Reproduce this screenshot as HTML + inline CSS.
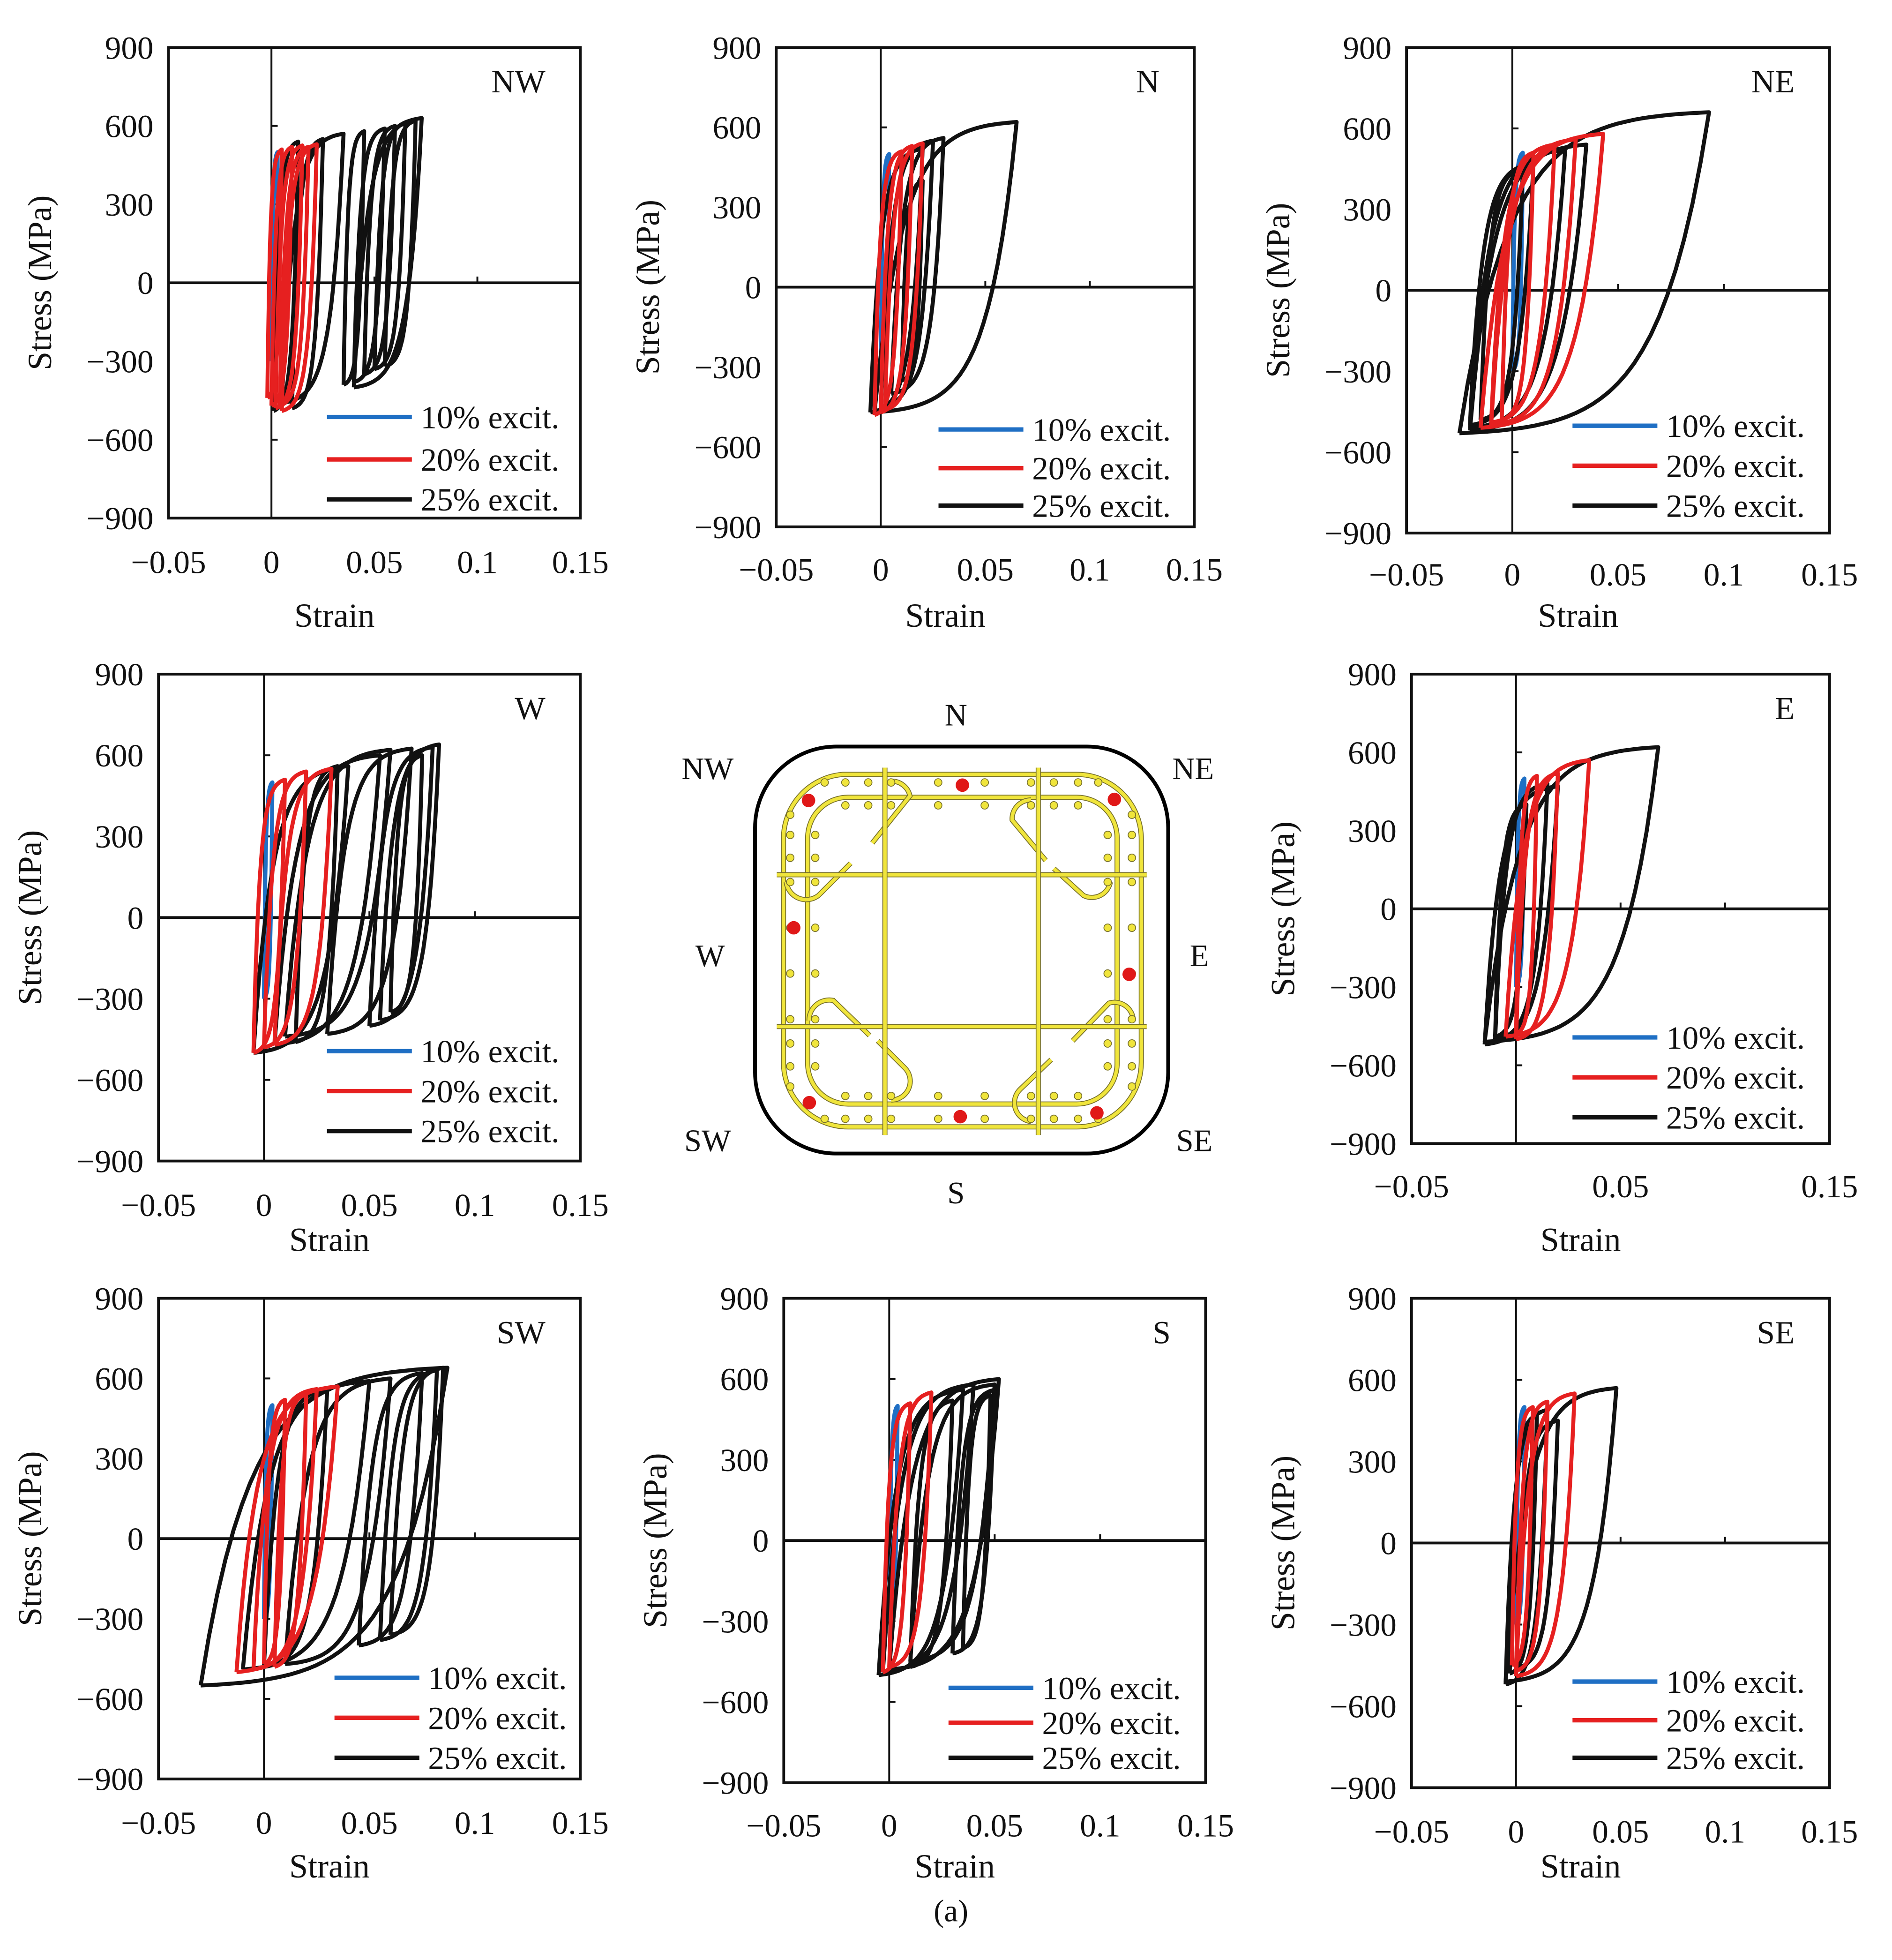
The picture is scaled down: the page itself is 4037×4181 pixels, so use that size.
<!DOCTYPE html>
<html><head><meta charset="utf-8"><style>
html,body{margin:0;padding:0;background:#fff;}
svg{display:block;}
text{font-family:"Liberation Serif",serif;fill:#111;}
</style></head><body>
<svg id="fig" width="4037" height="4181" viewBox="0 0 1516 1570" xmlns="http://www.w3.org/2000/svg">
<g id="panels"></g>
<g id="diagram">
  <rect x="605" y="598" width="331" height="326" rx="65" fill="#fff" stroke="#000" stroke-width="3"/>
  <g id="cage" transform="translate(593.3,585.8) scale(0.21556)"></g>
  <text x="766" y="581" font-size="25" text-anchor="middle">N</text>
  <text x="567" y="624" font-size="25" text-anchor="middle">NW</text>
  <text x="956" y="624" font-size="25" text-anchor="middle">NE</text>
  <text x="569" y="774" font-size="25" text-anchor="middle">W</text>
  <text x="961" y="774" font-size="25" text-anchor="middle">E</text>
  <text x="567" y="922" font-size="25" text-anchor="middle">SW</text>
  <text x="957" y="922" font-size="25" text-anchor="middle">SE</text>
  <text x="766" y="964" font-size="25" text-anchor="middle">S</text>
</g>
<text x="762" y="1539" font-size="25" text-anchor="middle">(a)</text>
</svg>
<script>
// ---------- data (loops: [strainMin, strainMax, peakStress, minStress]) ----------
const yTicks = [900, 600, 300, 0, -300, -600, -900];
const xTicksFull = [-0.05, 0, 0.05, 0.1, 0.15];
const xTicksE = [-0.05, 0.05, 0.15];
const seriesNames = ["10% excit.", "20% excit.", "25% excit."];

const nwBlue = [[0,0.003,500,-300]];
const nwRed = [[-0.002,0.005,510,-440],[0,0.01,520,-470],[0.002,0.015,525,-480],[0.005,0.022,530,-490],[0.004,0.018,520,-470]];
const nwBlack = [[0.001,0.013,540,-490],[0.005,0.035,570,-460],[0.01,0.025,550,-480],[0.035,0.045,580,-390],[0.04,0.055,590,-380],[0.045,0.06,600,-350],[0.05,0.065,610,-330],[0.055,0.07,620,-320],[0.04,0.073,630,-400]];

const nBlue = [[0,0.004,500,-300]];
const nRed = [[-0.003,0.01,510,-480],[0,0.015,530,-470],[0.002,0.02,540,-460]];
const nBlack = [[-0.005,0.02,520,-470],[0,0.025,550,-450],[0.005,0.03,560,-400],[0.01,0.02,400,-350],[-0.003,0.065,620,-470]];

const neBlue = [[0,0.005,510,-300]];
const neRed = [[-0.015,0.043,580,-510],[-0.01,0.03,560,-500],[-0.01,0.02,540,-490],[-0.005,0.01,510,-480]];
const neBlack = [[-0.025,0.093,660,-530],[-0.02,0.035,540,-520],[-0.02,0.025,520,-510],[-0.02,0.01,470,-500],[-0.015,0.005,450,-480]];

const wBlue = [[0,0.004,500,-300]];
const wRed = [[-0.005,0.01,510,-500],[0,0.02,540,-480],[0.005,0.032,550,-470]];
const wBlack = [[-0.005,0.04,560,-500],[0.005,0.055,600,-470],[0.015,0.035,560,-460],[0.01,0.06,620,-440],[0.03,0.07,625,-430],[0.05,0.08,630,-400],[0.055,0.083,640,-380],[0.06,0.075,600,-350]];

const eBlue = [[0,0.004,500,-300]];
const eRed = [[-0.005,0.035,570,-490],[0,0.02,520,-500],[0,0.01,510,-480]];
const eBlack = [[-0.015,0.068,620,-510],[-0.015,0.02,470,-520],[-0.01,0.015,480,-500],[-0.01,0.005,400,-490]];

const swBlue = [[0,0.004,500,-300]];
const swRed = [[-0.013,0.035,570,-500],[-0.005,0.025,560,-490],[0.005,0.02,540,-480],[0,0.01,520,-470]];
const swBlack = [[-0.03,0.087,640,-550],[-0.01,0.05,590,-490],[0.01,0.06,600,-470],[0,0.03,560,-480],[0.045,0.075,620,-400],[0.055,0.082,630,-380],[0.06,0.085,640,-360]];

const sBlue = [[0,0.004,500,-300]];
const sRed = [[-0.003,0.01,510,-490],[0,0.02,550,-470]];
const sBlack = [[-0.005,0.035,560,-500],[-0.003,0.04,580,-490],[0,0.052,600,-480],[0.01,0.05,580,-450],[0.03,0.05,560,-420],[0.035,0.048,540,-400],[0.01,0.03,520,-470]];

const seBlue = [[0,0.004,500,-300]];
const seRed = [[0,0.028,550,-490],[0,0.015,520,-470],[-0.002,0.008,500,-450]];
const seBlack = [[-0.005,0.048,570,-510],[-0.005,0.015,490,-520],[-0.003,0.01,470,-480],[0,0.02,450,-460]];

// ---------- layout ----------
const panels = [
 {id:"nw",t:"NW",x0:135,x1:465,y0:38,y1:415,xl:450,st:493,lg:[334,368,400],lx:262,xt:xTicksFull,d:[nwBlue,nwRed,nwBlack]},
 {id:"n",t:"N",x0:622,x1:957,y0:38,y1:422,xl:456,st:493,lg:[344,375,405],lx:752,xt:xTicksFull,d:[nBlue,nRed,nBlack]},
 {id:"ne",t:"NE",x0:1127,x1:1466,y0:38,y1:427,xl:460,st:493,lg:[341,373,405],lx:1260,xt:xTicksFull,d:[neBlue,neRed,neBlack]},
 {id:"w",t:"W",x0:127,x1:465,y0:540,y1:930,xl:965,st:993,lg:[842,874,906],lx:262,xt:xTicksFull,d:[wBlue,wRed,wBlack]},
 {id:"e",t:"E",x0:1131,x1:1466,y0:540,y1:916,xl:950,st:993,lg:[831,863,895],lx:1260,xt:xTicksE,d:[eBlue,eRed,eBlack]},
 {id:"sw",t:"SW",x0:127,x1:465,y0:1040,y1:1425,xl:1460,st:1495,lg:[1344,1376,1408],lx:268,xt:xTicksFull,d:[swBlue,swRed,swBlack]},
 {id:"s",t:"S",x0:628,x1:966,y0:1040,y1:1428,xl:1462,st:1495,lg:[1352,1380,1408],lx:760,xt:xTicksFull,d:[sBlue,sRed,sBlack]},
 {id:"se",t:"SE",x0:1131,x1:1466,y0:1040,y1:1432,xl:1467,st:1495,lg:[1347,1378,1408],lx:1260,xt:xTicksFull,d:[seBlue,seRed,seBlack]}
];
const colors = ["#1f6fc4","#e62020","#111111"];
const NS = "http://www.w3.org/2000/svg";
function mk(tag, attrs, parent){ const e=document.createElementNS(NS,tag); for(const k in attrs) e.setAttribute(k,attrs[k]); parent.appendChild(e); return e; }
function fmt(v){ if(v===0) return "0"; let s=String(Math.abs(v)); if(s.startsWith("0.")) s="0"+s.slice(1); return (v<0?"\u2212":"")+s; }

const root = document.getElementById("panels");
panels.forEach(p=>{
  const g = mk("g",{},root);
  
  
  const sx = v => p.x0 + (v + 0.05) / 0.2 * (p.x1 - p.x0);
  const sy = v => p.y0 + (900 - v) / 1800 * (p.y1 - p.y0);
  const box = mk("rect",{x:p.x0,y:p.y0,width:p.x1-p.x0,height:p.y1-p.y0,fill:"none",stroke:"#111","stroke-width":2.2},g);
  
  
  const za = mk("line",{x1:p.x0,x2:p.x1,y1:sy(0),y2:sy(0),stroke:"#111","stroke-width":2.2},g);
  
  
  const zb = mk("line",{x1:sx(0),x2:sx(0),y1:p.y0,y2:p.y1,stroke:"#111","stroke-width":1.5},g);
  
  
  [0.05,0.1].forEach(v=>{ const t=mk("line",{x1:sx(v),x2:sx(v),y1:sy(0),y2:sy(0)-5,stroke:"#111","stroke-width":1.5},g);
    
     });
  [600,300,-300,-600].forEach(v=>{ const t=mk("line",{x1:sx(0),x2:sx(0)+5,y1:sy(v),y2:sy(v),stroke:"#111","stroke-width":1.5},g);
    
     });
  yTicks.forEach(v=>{ const t=mk("text",{x:p.x0-12,y:sy(v)+9,"font-size":26,"text-anchor":"end"},g); t.textContent=fmt(v);
    
     });
  p.xt.forEach(v=>{ const t=mk("text",{x:sx(v),y:p.xl+9,"font-size":26,"text-anchor":"middle"},g); t.textContent=fmt(v);
    
     });
  const xt = mk("text",{x:(p.x0+p.x1)/2 - 32,y:p.st+9,"font-size":27,"text-anchor":"middle"},g); xt.textContent="Strain";
  
  
  const yc = (p.y0+p.y1)/2; const yx = p.x0-94;
  const yt = mk("text",{x:yx,y:yc,"font-size":27,"text-anchor":"middle",transform:`rotate(-90 ${yx} ${yc})`},g); yt.textContent="Stress (MPa)";
  
  
  const pt = mk("text",{x:p.x1-28,y:p.y0+36,"font-size":26,"text-anchor":"end"},g); pt.textContent=p.t;
  
  
  // series: draw blue, black, red
  [0,2,1].forEach(si=>{
    const sg = mk("g",{},g);
    
    
    p.d[si].forEach(L=>{
      const [a,b,top,bot]=L; const K=5, N=30, den=1-Math.exp(-K);
      let d="";
      for(let i=0;i<=N;i++){ const t=i/N; const x=a+(b-a)*t; const y=bot+(top-bot)*(1-Math.exp(-K*t))/den; d+=(i?"L":"M")+sx(x).toFixed(1)+","+sy(y).toFixed(1); }
      for(let i=0;i<=N;i++){ const t=i/N; const x=b-(b-a)*t; const y=top-(top-bot)*(1-Math.exp(-K*t))/den; d+="L"+sx(x).toFixed(1)+","+sy(y).toFixed(1); }
      const path = mk("path",{d:d,fill:"none",stroke:colors[si],"stroke-width":3.2,"stroke-linejoin":"round"},sg);
      
      
    });
  });
  // legend
  seriesNames.forEach((nm,i)=>{
    const ln = mk("line",{x1:p.lx,x2:p.lx+68,y1:p.lg[i],y2:p.lg[i],stroke:colors[i],"stroke-width":3.5},g);
    
    
    const tx = mk("text",{x:p.lx+75,y:p.lg[i]+9,"font-size":26},g); tx.textContent=nm;
    
    
  });
});

// ---------- cross-section cage (coordinates in local diagram space) ----------
const cage = document.getElementById("cage");
function bar(d){ mk("path",{d:d,fill:"none",stroke:"#77702a","stroke-width":19,"stroke-linecap":"butt"},cage); mk("path",{d:d,fill:"none",stroke:"#f0e53c","stroke-width":13,"stroke-linecap":"butt"},cage); }
bar("M380,160 L1250,160 A240,240 0 0 1 1490,400 L1490,1230 A240,240 0 0 1 1250,1470 L400,1470 A240,240 0 0 1 160,1230 L160,400 A240,240 0 0 1 380,160 Z");
bar("M400,245 L1250,245 A150,150 0 0 1 1400,395 L1400,1235 A150,150 0 0 1 1250,1385 L400,1385 A150,150 0 0 1 250,1235 L250,395 A150,150 0 0 1 400,245 Z");
bar("M560,185 A70,70 0 0 1 630,240 L490,415");
bar("M170,560 A75,75 0 0 0 290,610 L410,490");
bar("M1080,255 A70,70 0 0 0 1010,330 L1135,480");
bar("M1165,510 L1275,610 A70,70 0 0 0 1375,560");
bar("M255,1075 A75,75 0 0 1 345,1000 L480,1130");
bar("M510,1150 L610,1250 A70,70 0 0 1 560,1370");
bar("M1460,1070 A70,70 0 0 0 1370,1010 L1235,1150");
bar("M1155,1220 L1040,1330 A70,70 0 0 0 1080,1450");
bar("M135,533 L1510,533"); bar("M135,1097 L1510,1097");
bar("M537,135 L537,1500"); bar("M1107,135 L1107,1500");
const dots = [];
[313,390,475,560,735,908,1080,1165,1255,1330].forEach(x=>{dots.push([x,190]);dots.push([x,1440]);});
[390,475,560,735,908,1080,1165,1255].forEach(x=>{dots.push([x,275]);dots.push([x,1355]);});
[310,385,470,560,730,900,1070,1160,1245,1320].forEach(y=>{dots.push([185,y]);dots.push([1455,y]);});
[385,470,560,730,900,1070,1160,1245].forEach(y=>{dots.push([278,y]);dots.push([1365,y]);});
dots.forEach(([x,y])=>{ const c=mk("circle",{cx:x,cy:y,r:14,fill:"#f0e53c",stroke:"#77702a","stroke-width":3},cage);
  
   });
[[253,257],[825,200],[1390,253],[198,730],[1445,903],[256,1380],[817,1432],[1325,1418]].forEach(([x,y])=>{
  const c=mk("circle",{cx:x,cy:y,r:25,fill:"#e01818"},cage);
  
  
});
</script>
</body></html>
